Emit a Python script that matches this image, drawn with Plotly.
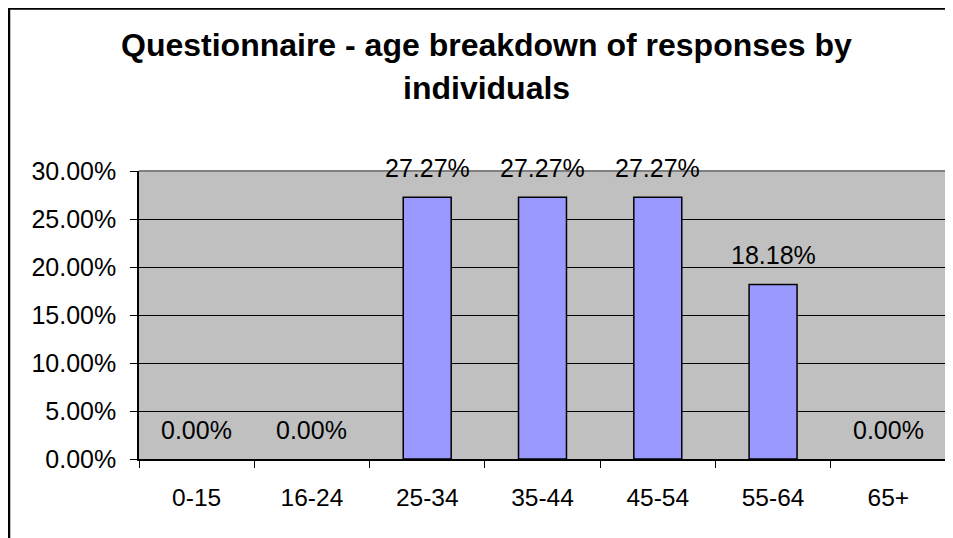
import plotly.graph_objects as go

categories = ["0-15", "16-24", "25-34", "35-44", "45-54", "55-64", "65+"]
values = [0.0, 0.0, 0.2727, 0.2727, 0.2727, 0.1818, 0.0]
title_lines = ["Questionnaire - age breakdown of responses by", "individuals"]

FONT = "Liberation Sans, Arial, sans-serif"

W, H = 945, 530
L, R, T, B = 131, 7, 163, 79
PW, PH = W - L - R, H - T - B

fig = go.Figure()
fig.add_trace(go.Bar(
    x=categories, y=values,
    marker=dict(color="#9999FF",
                line=dict(color="black", width=[1.5 if v > 0 else 0 for v in values])),
    hoverinfo="skip",
))

for c, v in zip(categories, values):
    fig.add_annotation(x=c, y=v, text=f"{v*100:.2f}%", showarrow=False,
                       yshift=29, yanchor="middle",
                       font=dict(family=FONT, size=25, color="black"))

# title lines as annotations (centered over the whole chart)
for line, ypix in zip(title_lines, [37, 80]):
    fig.add_annotation(xref="paper", yref="paper",
                       x=(478 - L) / PW, y=(H - B - ypix) / PH,
                       text=line, showarrow=False,
                       xanchor="center", yanchor="middle",
                       font=dict(family=FONT, size=32, color="black", weight="bold"))

fig.update_layout(
    width=W, height=H,
    margin=dict(l=L, r=R, t=T, b=B),
    paper_bgcolor="white", plot_bgcolor="#C0C0C0",
    bargap=0.584, showlegend=False,
    font=dict(family=FONT, size=25, color="black"),
)
fig.update_xaxes(
    showline=True, linecolor="black", linewidth=1.5,
    ticks="outside", ticklen=7, tickcolor="black", tickwidth=1,
    tickson="boundaries", showgrid=False,
    ticklabelstandoff=16,
    tickfont=dict(family=FONT, size=24.5, color="black"),
)
fig.update_yaxes(
    range=[0, 0.30], dtick=0.05, tickformat=".2%",
    showline=True, linecolor="black", linewidth=1.5,
    ticks="outside", ticklen=7, tickcolor="black", tickwidth=1,
    showgrid=True, gridcolor="black", gridwidth=1, zeroline=False,
    ticklabelstandoff=9,
    tickfont=dict(family=FONT, size=25, color="black"),
)
# plot area top/right border (gray)
fig.add_shape(type="line", xref="paper", yref="paper", x0=0, x1=1, y0=1, y1=1,
              line=dict(color="#808080", width=2), layer="above")
fig.add_shape(type="line", xref="paper", yref="paper", x0=1, x1=1, y0=0, y1=1,
              line=dict(color="#808080", width=2), layer="above")
# outer chart border (clipped at right and bottom)
fig.add_shape(type="rect", xref="paper", yref="paper",
              x0=(1 - L) / PW, x1=1.1, y0=-0.5, y1=(H - B - 0.5) / PH,
              line=dict(color="black", width=2.5), layer="above")

fig.write_html("out.html")
